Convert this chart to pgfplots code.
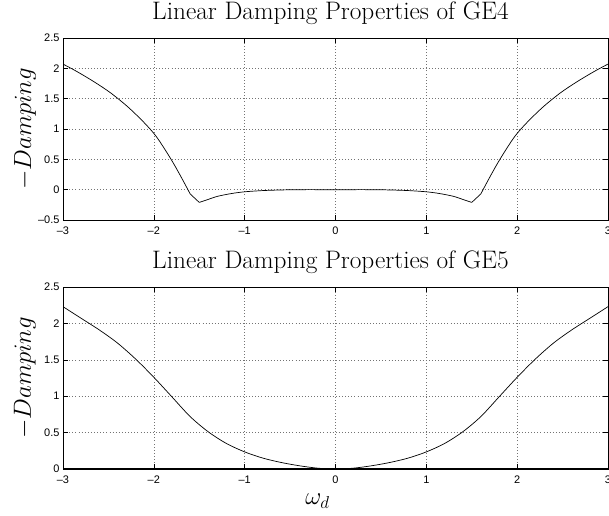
\documentclass[border=0pt]{standalone}
\usepackage{fontspec}
\usepackage{pgfplots}
\pgfplotsset{compat=1.18}
\usetikzlibrary{calc}
\newfontfamily\tickfont{Liberation Sans}

% GE4, left branch
\pgfplotstableread{
x y
-3.00 2.07
-2.85 1.95
-2.66 1.78
-2.48 1.60
-2.29 1.37
-2.11 1.11
-1.97 0.87
-1.81 0.50
-1.70 0.21
-1.60 -0.07
}\gefourL
% GE4, middle
\pgfplotstableread{
x y
-1.50 -0.21
-1.40 -0.16
-1.30 -0.11
-1.15 -0.065
-1.00 -0.035
-0.80 -0.015
-0.60 -0.005
-0.40 0
0.00 0
0.40 0
0.60 -0.005
0.80 -0.015
1.00 -0.035
1.15 -0.065
1.30 -0.11
1.40 -0.16
1.50 -0.21
}\gefourM
% GE4, right branch
\pgfplotstableread{
x y
1.60 -0.07
1.70 0.21
1.81 0.50
1.97 0.87
2.11 1.11
2.29 1.37
2.48 1.60
2.66 1.78
2.85 1.95
3.00 2.07
}\gefourR
% GE4, kinks
\pgfplotstableread{
x y
-1.60 -0.07
-1.50 -0.21
}\kinkL
\pgfplotstableread{
x y
1.50 -0.21
1.60 -0.07
}\kinkR

\pgfplotstableread{
x y
-3.0 2.23
-2.8 2.07
-2.6 1.91
-2.4 1.73
-2.2 1.51
-2.0 1.26
-1.8 0.99
-1.6 0.72
-1.4 0.51
-1.2 0.35
-1.0 0.235
-0.8 0.15
-0.6 0.09
-0.4 0.045
-0.2 0.012
0.0 0
0.2 0.012
0.4 0.045
0.6 0.09
0.8 0.15
1.0 0.235
1.2 0.35
1.4 0.51
1.6 0.72
1.8 0.99
2.0 1.26
2.2 1.51
2.4 1.73
2.6 1.91
2.8 2.07
3.0 2.23
}\gefive

\pgfplotsset{
  mstyle/.style={
    width=545bp, height=182bp, scale only axis,
    xmin=-3, xmax=3,
    xtick={-3,-2,-1,0,1,2,3},
    xticklabels={\textendash3,\textendash2,\textendash1,0,1,2,3},
    grid=major,
    major grid style={line width=0.6bp, dash pattern=on 0.7bp off 2.4bp, black!55},
    tick align=inside, tick pos=both,
    major tick length=5bp,
    tick style={black, line width=0.6bp},
    axis line style={black, line width=0.8bp},
    ticklabel style={font=\tickfont\fontsize{11}{13}\selectfont},
    xticklabel style={yshift=-3.8bp},
    title style={font=\fontsize{25.4}{29}\selectfont, inner sep=0pt, at={($(axis description cs:0.5,1)+(-5bp,13bp)$)}, anchor=base},
    ylabel style={font=\fontsize{26}{30}\selectfont, inner sep=0pt, at={($(axis description cs:0,0.5)+(-32bp,0)$)}, anchor=base},
    xlabel style={font=\fontsize{26}{30}\selectfont, inner sep=0pt, at={($(axis description cs:0.5,0)+(-18bp,-35.6bp)$)}, anchor=base},
    curve/.style={black, line width=0.7bp},
  }
}

\begin{document}
\begin{tikzpicture}
\begin{axis}[mstyle, at={(0,0)}, anchor=north west,
  ymin=-0.5, ymax=2.5,
  ytick={-0.5,0,0.5,1,1.5,2,2.5},
  yticklabels={\textendash0.5,0,0.5,1,1.5,2,2.5},
  title={Linear Damping Properties of GE4},
  ylabel={$-Damping$}]
\addplot[curve, smooth, tension=0.5] table[x=x,y=y]{\gefourL};
\addplot[curve] table[x=x,y=y]{\kinkL};
\addplot[curve, smooth, tension=0.5] table[x=x,y=y]{\gefourM};
\addplot[curve] table[x=x,y=y]{\kinkR};
\addplot[curve, smooth, tension=0.5] table[x=x,y=y]{\gefourR};
\end{axis}
\begin{axis}[mstyle, at={(0,-249bp)}, anchor=north west,
  ymin=0, ymax=2.5,
  ytick={0,0.5,1,1.5,2,2.5},
  yticklabels={0,0.5,1,1.5,2,2.5},
  title={Linear Damping Properties of GE5},
  ylabel={$-Damping$},
  xlabel={$\omega_d$}]
\addplot[black, line width=1.6bp] coordinates {(-3,0) (3,0)};
\addplot[curve, smooth] table[x=x,y=y]{\gefive};
\end{axis}
\pgfresetboundingbox
\path (-63bp,38bp) rectangle (546bp,-478bp);
\end{tikzpicture}
\end{document}
